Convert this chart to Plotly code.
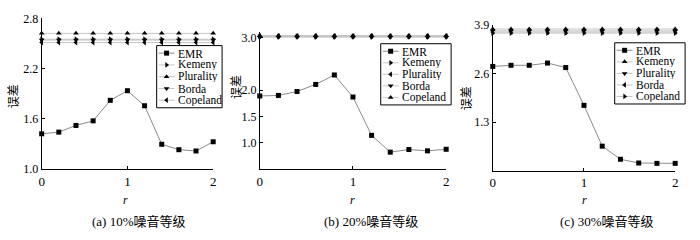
import plotly.graph_objects as go

r_vals = [0, 0.2, 0.4, 0.6, 0.8, 1.0, 1.2, 1.4, 1.6, 1.8, 2.0]

# Panel (a) 10% noise
a_names = ["EMR", "Kemeny", "Plurality", "Borda", "Copeland"]
a_symbols = ["square", "triangle-right", "triangle-up", "triangle-down", "triangle-left"]
a_emr = [1.42, 1.44, 1.52, 1.575, 1.82, 1.935, 1.755, 1.295, 1.23, 1.215, 1.325]
a_kemeny = [2.55] * 11
a_plurality = [2.62] * 11
a_borda = [2.54] * 11
a_copeland = [2.51] * 11

# Panel (b) 20% noise
b_names = ["EMR", "Kemeny", "Plurality", "Borda", "Copeland"]
b_symbols = ["square", "triangle-right", "triangle-left", "triangle-down", "triangle-up"]
b_emr = [1.89, 1.90, 1.975, 2.11, 2.29, 1.87, 1.14, 0.82, 0.87, 0.845, 0.875]
b_kemeny = [3.02] * 11
b_plurality = [3.03] * 11
b_borda = [3.01] * 11
b_copeland = [3.04] * 11

# Panel (c) 30% noise
c_names = ["EMR", "Kemeny", "Plurality", "Borda", "Copeland"]
c_symbols = ["square", "triangle-up", "triangle-down", "triangle-left", "triangle-right"]
c_emr = [2.79, 2.82, 2.82, 2.88, 2.76, 1.75, 0.66, 0.31, 0.21, 0.20, 0.20]
c_kemeny = [3.79] * 11
c_plurality = [3.74] * 11
c_borda = [3.71] * 11
c_copeland = [3.68] * 11

a_ticks = [1.0, 1.6, 2.2, 2.8]
b_ticks = [1.0, 1.5, 2.0, 3.0]
c_ticks = [1.3, 2.6, 3.9]
x_ticks = [0, 1, 2]
subtitles = ["(a) 10%噪音等级", "(b) 20%噪音等级", "(c) 30%噪音等级"]
y_title = "误差"
x_title = "r"

W, H = 700, 240
SERIF = "'Liberation Serif', 'Times New Roman', serif"
CJK = "'Liberation Serif', 'Noto Sans CJK SC', serif"

panels = [
    dict(names=a_names, symbols=a_symbols,
         series=[a_emr, a_kemeny, a_plurality, a_borda, a_copeland],
         ticks=a_ticks, yrange=[1.0, 2.8], px=(39, 212), py=(12, 172),
         leg=(155, 41, 221, 107), ytitle=(12, 95), xt=124, sub=137),
    dict(names=b_names, symbols=b_symbols,
         series=[b_emr, b_kemeny, b_plurality, b_borda, b_copeland],
         ticks=b_ticks, yrange=[0.5, 3.1], px=(259, 447), py=(27, 172),
         leg=(381, 39, 452, 104), ytitle=(236, 85), xt=353, sub=371),
    dict(names=c_names, symbols=c_symbols,
         series=[c_emr, c_kemeny, c_plurality, c_borda, c_copeland],
         ticks=c_ticks, yrange=[0.0, 3.9], px=(494, 678), py=(19, 174),
         leg=(617, 38, 688, 103), ytitle=(468, 97), xt=587, sub=609),
]

fig = go.Figure()
annotations = []
shapes = []
layout = {}

for k, p in enumerate(panels):
    ax = "" if k == 0 else str(k + 1)
    xa, ya = "x" + ax, "y" + ax
    for i, (name, sym, vals) in enumerate(zip(p["names"], p["symbols"], p["series"])):
        fig.add_trace(go.Scatter(
            x=r_vals, y=vals, mode="lines+markers", name=name, showlegend=False,
            line=dict(color="#8a8a8a" if i == 0 else "#c4c4c4", width=1),
            marker=dict(symbol=sym, size=5, color="black"),
            xaxis=xa, yaxis=ya, cliponaxis=False))
    layout["xaxis" + ax] = dict(
        domain=[p["px"][0] / W, p["px"][1] / W], range=[0, 2],
        tickvals=x_ticks, ticktext=[str(t) for t in x_ticks],
        showline=True, linecolor="black", linewidth=1, ticks="inside", ticklen=3,
        tickcolor="black", showgrid=False, zeroline=False, anchor=ya,
        tickfont=dict(family=SERIF, size=13, color="black"))
    layout["yaxis" + ax] = dict(
        domain=[1 - p["py"][1] / H, 1 - p["py"][0] / H], range=p["yrange"],
        tickvals=p["ticks"], ticktext=["%.1f" % t for t in p["ticks"]],
        showline=True, linecolor="black", linewidth=1, ticks="inside", ticklen=3,
        tickcolor="black", showgrid=False, zeroline=False, anchor=xa,
        tickfont=dict(family=SERIF, size=12, color="black"))

    # legend drawn on a hidden helper axis covering the legend box
    lx0, ly0, lx1, ly1 = p["leg"]
    lax = str(k + 4)
    lxa, lya = "x" + lax, "y" + lax
    layout["xaxis" + lax] = dict(domain=[lx0 / W, lx1 / W], range=[0, lx1 - lx0],
                                 visible=False, fixedrange=True, anchor=lya)
    layout["yaxis" + lax] = dict(domain=[1 - ly1 / H, 1 - ly0 / H], range=[ly1 - ly0, 0],
                                 visible=False, fixedrange=True, anchor=lxa)
    n = len(p["names"])
    step = (ly1 - ly0 - 16) / (n - 1)
    for i, (name, sym) in enumerate(zip(p["names"], p["symbols"])):
        yy = 8 + step * i
        fig.add_trace(go.Scatter(
            x=[2, 18], y=[yy, yy], mode="lines", showlegend=False, hoverinfo="skip",
            line=dict(color="#8a8a8a" if i == 0 else "#c4c4c4", width=1),
            xaxis=lxa, yaxis=lya, cliponaxis=False))
        fig.add_trace(go.Scatter(
            x=[10], y=[yy], mode="markers", showlegend=False, hoverinfo="skip",
            marker=dict(symbol=sym, size=5, color="black"),
            xaxis=lxa, yaxis=lya, cliponaxis=False))
        annotations.append(dict(
            x=20, y=yy, xref=lxa, yref=lya, text=name, showarrow=False,
            xanchor="left", yanchor="middle", height=11, borderpad=0,
            font=dict(family=SERIF, size=11.5, color="black")))
    shapes.append(dict(type="rect", xref=lxa + " domain", yref=lya + " domain",
                       x0=0, x1=1, y0=0, y1=1, line=dict(color="black", width=1),
                       layer="above"))

    annotations.append(dict(
        x=p["ytitle"][0] / W, y=1 - p["ytitle"][1] / H, xref="paper", yref="paper",
        text=y_title, showarrow=False, textangle=-90, xanchor="center", yanchor="middle",
        font=dict(family=CJK, size=12, color="black")))
    annotations.append(dict(
        x=p["xt"] / W, y=1 - 205 / H, xref="paper", yref="paper",
        text="<i>" + x_title + "</i>", showarrow=False, xanchor="center", yanchor="middle",
        font=dict(family=SERIF, size=12, color="black")))
    annotations.append(dict(
        x=p["sub"] / W, y=1 - 228 / H, xref="paper", yref="paper",
        text=subtitles[k], showarrow=False, xanchor="center", yanchor="middle",
        font=dict(family=CJK, size=13, color="black")))

fig.update_layout(
    width=W, height=H, margin=dict(l=0, r=0, t=0, b=0),
    paper_bgcolor="white", plot_bgcolor="white",
    showlegend=False, annotations=annotations, shapes=shapes, **layout)

fig.write_html("out.html")
